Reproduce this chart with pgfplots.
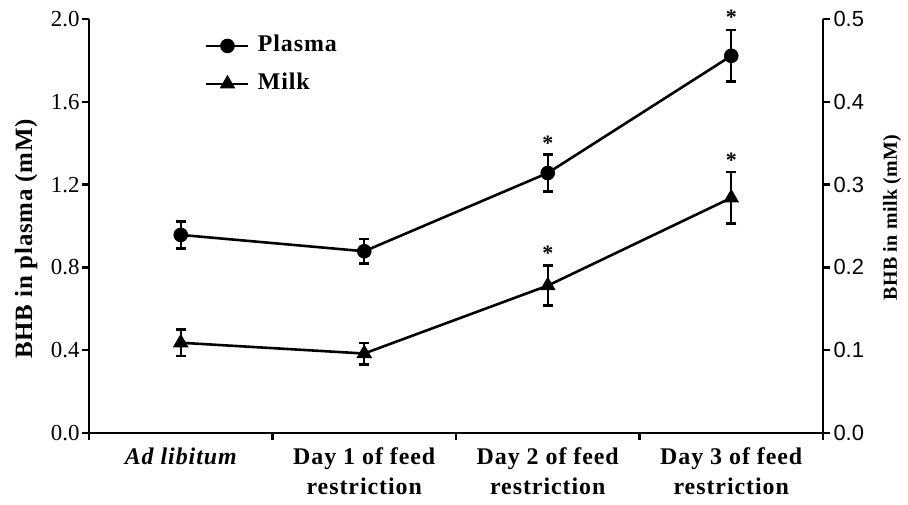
\documentclass[border=0pt]{standalone}
\usepackage{fontspec}
\setmainfont{Liberation Serif}
\newfontfamily\sansf{Liberation Sans}
\usepackage{pgfplots}
\pgfplotsset{compat=1.18}
\newcommand\bigbold{\fontsize{24}{30}\selectfont\bfseries\addfontfeature{LetterSpace=4}}
\begin{document}
\begin{tikzpicture}
\pgfplotsset{
  base/.style={
    scale only axis, width=734bp, height=414bp,
    xmin=0, xmax=4, ymin=0,
    clip=false,
    tick align=outside,
    major tick length=7bp,
    every tick/.style={black, line width=2.3pt},
    axis line style={line width=2.5pt},
    /pgf/number format/assume math mode=true,
    /pgf/number format/fixed, /pgf/number format/fixed zerofill, /pgf/number format/precision=1,
  },
  serie/.style={black, line width=2.6pt, mark size=6bp,
    error bars/y dir=both, error bars/y explicit,
    error bars/error bar style={line width=2.3pt},
    error bars/error mark options={rotate=90, mark size=5bp, line width=2.5pt}},
}
% plasma axis (left)
\begin{axis}[base, name=plasma,
  ymax=2.0,
  axis x line*=bottom, axis y line*=left,
  ytick={0,0.4,...,2.01},
  y tick label style={font=\fontsize{23}{26}\selectfont, xshift=1bp},
  xtick={0,1,2,3,4},
  x tick label as interval,
  xticklabels={{\itshape Ad libitum},{Day 1 of feed\\restriction},{Day 2 of feed\\restriction},{Day 3 of feed\\restriction}},
  x tick label style={align=center, font=\bigbold, yshift=-4bp},
  ylabel={BHB in plasma (mM)},
  every axis y label/.style={at={(axis description cs:-0.0858,0.4686)}, rotate=90, anchor=center, font=\fontsize{25}{28}\selectfont\bfseries\addfontfeature{LetterSpace=3}},
  legend style={draw=none, fill=none, inner sep=0pt, at={(0.158,0.962)}, anchor=north west,
    font=\bigbold, row sep=16bp, column sep=0bp,
    nodes={inner sep=0pt, text height=17bp, text depth=5bp}},
  legend cell align=left,
  legend image code/.code={\draw[#1, mark repeat=2, mark phase=2] plot coordinates {(0bp,0bp) (21bp,0bp) (42bp,0bp)};\path (50bp,0bp);},
]
\addplot+[serie, mark=*, mark options={solid, fill=black}] table[x=x, y=y, y error=e] {
x y e
0.5 0.957 0.065
1.5 0.878 0.060
2.5 1.256 0.090
3.5 1.822 0.125
};
\addlegendentry{Plasma}
\addlegendimage{black, line width=2.6pt, mark=triangle*, mark size=6.5bp, mark options={solid, fill=black}}
\addlegendentry{Milk}
\addplot[draw=none, mark=none, nodes near coords={\bfseries *}, nodes near coords align={center},
  every node near coord/.append style={font=\fontsize{22}{26}\selectfont, anchor=center}] coordinates {(2.5,1.40) (3.5,2.01)};
\end{axis}
% milk axis (right)
\begin{axis}[base,
  ymax=0.5,
  axis x line=none, axis y line*=right,
  ytick={0,0.1,...,0.51},
  y tick label style={font=\sansf\fontsize{22}{26}\selectfont},
  ylabel={BHB in milk (mM)},
  every axis y label/.style={at={(axis description cs:1.094,0.5205)}, rotate=90, anchor=center, font=\fontsize{20}{22}\selectfont\bfseries\addfontfeature{LetterSpace=2}},
]
\addplot+[serie, mark=triangle*, mark size=6.5bp, mark options={solid, fill=black}] table[x=x, y=y, y error=e] {
x y e
0.5 0.109 0.016
1.5 0.096 0.013
2.5 0.178 0.024
3.5 0.284 0.031
};
\addplot[draw=none, mark=none, nodes near coords={\bfseries *}, nodes near coords align={center},
  every node near coord/.append style={font=\fontsize{22}{26}\selectfont, anchor=center}] coordinates {(2.5,0.217) (3.5,0.329)};
\end{axis}
\pgfresetboundingbox
\path ([shift={(-89bp,-72bp)}]plasma.south west) rectangle ([shift={(85bp,19bp)}]plasma.north east);
\end{tikzpicture}
\end{document}
